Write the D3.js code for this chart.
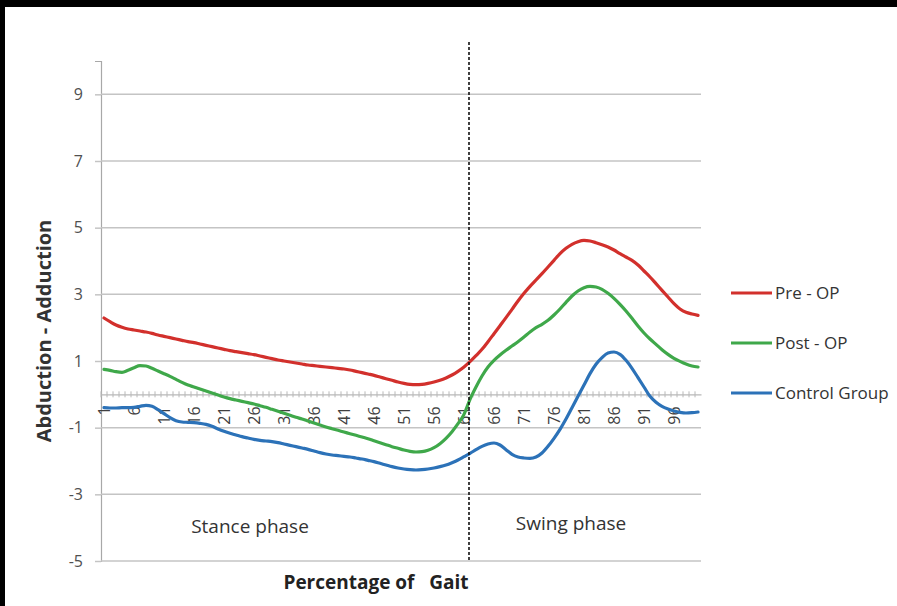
<!DOCTYPE html>
<html><head><meta charset="utf-8">
<script src="https://cdn.jsdelivr.net/npm/d3@7"></script>
<style>
html,body{margin:0;padding:0;background:#fff;}
svg{display:block;}
text{font-family:"Open Sans","Liberation Sans",sans-serif;}
</style></head>
<body><svg id="chart" width="897" height="606"></svg>
<script>
// ---- data ----
const gaitPercent = d3.range(1, 101);
const xTickLabels = [1,6,11,16,21,26,31,36,41,46,51,56,61,66,71,76,81,86,91,96];
const yTickValues = [-5,-3,-1,1,3,5,7,9];
const seriesNames = ["Pre - OP","Post - OP","Control Group"];
const preOP = [2.29,2.18,2.08,2.01,1.96,1.93,1.90,1.87,1.83,1.78,1.74,1.70,1.66,1.62,1.58,1.55,1.51,1.47,1.43,1.39,
1.35,1.31,1.28,1.25,1.22,1.19,1.15,1.11,1.07,1.03,1.00,0.97,0.94,0.91,0.88,0.86,0.84,0.82,0.80,0.78,
0.76,0.73,0.69,0.65,0.61,0.57,0.52,0.47,0.42,0.37,0.33,0.30,0.29,0.30,0.33,0.37,0.42,0.49,0.58,0.69,
0.82,0.98,1.16,1.35,1.58,1.82,2.06,2.30,2.55,2.80,3.03,3.24,3.43,3.62,3.82,4.02,4.22,4.38,4.50,4.58,
4.62,4.60,4.55,4.49,4.42,4.33,4.22,4.12,4.02,3.88,3.70,3.52,3.32,3.12,2.92,2.72,2.56,2.46,2.41,2.37];
const postOP = [0.75,0.72,0.68,0.66,0.72,0.80,0.86,0.85,0.78,0.70,0.62,0.54,0.45,0.36,0.28,0.22,0.16,0.10,0.04,-0.02,
-0.08,-0.13,-0.17,-0.21,-0.25,-0.29,-0.34,-0.39,-0.45,-0.51,-0.57,-0.63,-0.69,-0.74,-0.80,-0.86,-0.92,-0.98,-1.03,-1.08,
-1.13,-1.18,-1.23,-1.28,-1.33,-1.39,-1.45,-1.51,-1.57,-1.62,-1.67,-1.71,-1.73,-1.72,-1.68,-1.60,-1.48,-1.32,-1.12,-0.88,
-0.60,-0.15,0.22,0.55,0.82,1.02,1.18,1.32,1.45,1.58,1.72,1.87,2.00,2.10,2.22,2.38,2.56,2.76,2.95,3.10,
3.20,3.24,3.22,3.15,3.03,2.88,2.70,2.50,2.28,2.05,1.84,1.66,1.50,1.34,1.20,1.08,0.99,0.91,0.85,0.82];
const controlGroup = [-0.40,-0.41,-0.41,-0.40,-0.40,-0.39,-0.36,-0.33,-0.36,-0.46,-0.58,-0.70,-0.79,-0.83,-0.84,-0.85,-0.87,-0.90,-0.96,-1.04,
-1.11,-1.17,-1.22,-1.27,-1.31,-1.35,-1.38,-1.40,-1.42,-1.45,-1.49,-1.53,-1.57,-1.61,-1.65,-1.70,-1.75,-1.79,-1.82,-1.84,
-1.86,-1.88,-1.91,-1.94,-1.98,-2.02,-2.07,-2.12,-2.17,-2.21,-2.24,-2.26,-2.27,-2.26,-2.24,-2.21,-2.17,-2.12,-2.05,-1.97,
-1.87,-1.77,-1.66,-1.56,-1.49,-1.46,-1.52,-1.66,-1.80,-1.88,-1.91,-1.92,-1.88,-1.76,-1.56,-1.32,-1.05,-0.74,-0.40,-0.06,
0.28,0.62,0.90,1.10,1.24,1.27,1.20,1.02,0.78,0.50,0.22,-0.06,-0.24,-0.36,-0.44,-0.50,-0.54,-0.56,-0.55,-0.53];
const phaseBoundary = 62;
const phaseLabels = ["Stance phase","Swing phase"];
const seriesColors = ["#d2302c","#3fa84a","#2c72b8"];

// ---- layout ----
const svg = d3.select("#chart");
const W = 897, H = 606;
const plot = {left:101, right:701, top:61, bottom:561};

svg.append("rect").attr("width",W).attr("height",H).attr("fill","#fff");
svg.append("rect").attr("x",0).attr("y",0).attr("width",W).attr("height",7).attr("fill","#000");
svg.append("rect").attr("x",0).attr("y",0).attr("width",5).attr("height",H).attr("fill","#000");

const x = d3.scaleBand().domain(gaitPercent).range([plot.left, plot.right]);
const xc = d => x(d) + x.bandwidth()/2;
const y = d3.scaleLinear().domain([-5, 10]).range([plot.bottom, plot.top]);

// gridlines + y axis
const yAxis = d3.axisLeft(y).tickValues(yTickValues).tickSize(6).tickFormat(d => String(d));
const gy = svg.append("g").attr("transform",`translate(${plot.left},0)`).call(yAxis);
gy.select(".domain").attr("stroke","#a8a8a8").attr("stroke-width",1.2);
gy.selectAll(".tick line").attr("stroke","#c4c4c4").attr("stroke-width",1.5);
gy.selectAll(".tick text").attr("x",-18).attr("fill","#505050").style("font-size","16px");
svg.append("g").selectAll("line").data(yTickValues).join("line")
  .attr("x1",plot.left).attr("x2",plot.right)
  .attr("y1",d=>y(d)).attr("y2",d=>y(d))
  .attr("stroke","#c4c4c4").attr("stroke-width",1.5);

// x axis at zero
const xAxis = d3.axisBottom(x).tickValues(xTickLabels).tickSize(0);
const gx = svg.append("g").attr("transform",`translate(0,${y(0)})`).call(xAxis);
gx.select(".domain").attr("stroke","#b8b8b8").attr("stroke-width",1.2);
gx.selectAll(".tick text")
  .attr("transform","rotate(-90)")
  .attr("text-anchor","end")
  .attr("x",-12).attr("y",0).attr("dy","0.35em")
  .attr("fill","#404040").style("font-size","16px");
// category tick marks
svg.append("g").selectAll("line").data(gaitPercent).join("line")
  .attr("x1",d=>x(d)).attr("x2",d=>x(d))
  .attr("y1",y(0)-3).attr("y2",y(0)+3)
  .attr("stroke","#b8b8b8").attr("stroke-width",1);

// lines
const allSeries = [preOP, postOP, controlGroup];
const line = d3.line().x((d,i)=>xc(gaitPercent[i])).y(d=>y(d)).curve(d3.curveMonotoneX);
svg.append("g").selectAll("path").data(allSeries).join("path")
  .attr("d",d=>line(d)).attr("fill","none")
  .attr("stroke",(d,i)=>seriesColors[i]).attr("stroke-width",3.2)
  .attr("stroke-linejoin","round").attr("stroke-linecap","round");

// phase boundary
const bx = xc(phaseBoundary) - 1;
svg.append("line").attr("x1",bx).attr("x2",bx).attr("y1",42).attr("y2",plot.bottom+1)
  .attr("stroke","#111").attr("stroke-width",1.6).attr("stroke-dasharray","3,2");

// phase labels
svg.append("text").attr("x",250).attr("y",533).attr("text-anchor","middle")
  .attr("fill","#333").style("font-size","19px").text(phaseLabels[0]);
svg.append("text").attr("x",571).attr("y",530).attr("text-anchor","middle")
  .attr("fill","#333").style("font-size","19px").text(phaseLabels[1]);

// axis titles
svg.append("text").attr("x",376).attr("y",589).attr("text-anchor","middle")
  .attr("fill","#222").style("font-size","19px").style("font-weight","bold")
  .attr("xml:space","preserve").text("Percentage of   Gait");
svg.append("text").attr("transform","translate(51,331) rotate(-90)").attr("text-anchor","middle")
  .attr("fill","#333").style("font-size","20px").style("font-weight","bold")
  .text("Abduction - Adduction");

// legend
const legY = [293, 343, 393];
const lg = svg.append("g").selectAll("g").data(seriesNames).join("g")
  .attr("transform",(d,i)=>`translate(731,${legY[i]})`);
lg.append("line").attr("x1",0).attr("x2",41).attr("stroke",(d,i)=>seriesColors[i]).attr("stroke-width",3.2);
lg.append("text").attr("x",44).attr("dy","0.35em").attr("fill","#333").style("font-size","17px").text(d=>d);
</script></body></html>
